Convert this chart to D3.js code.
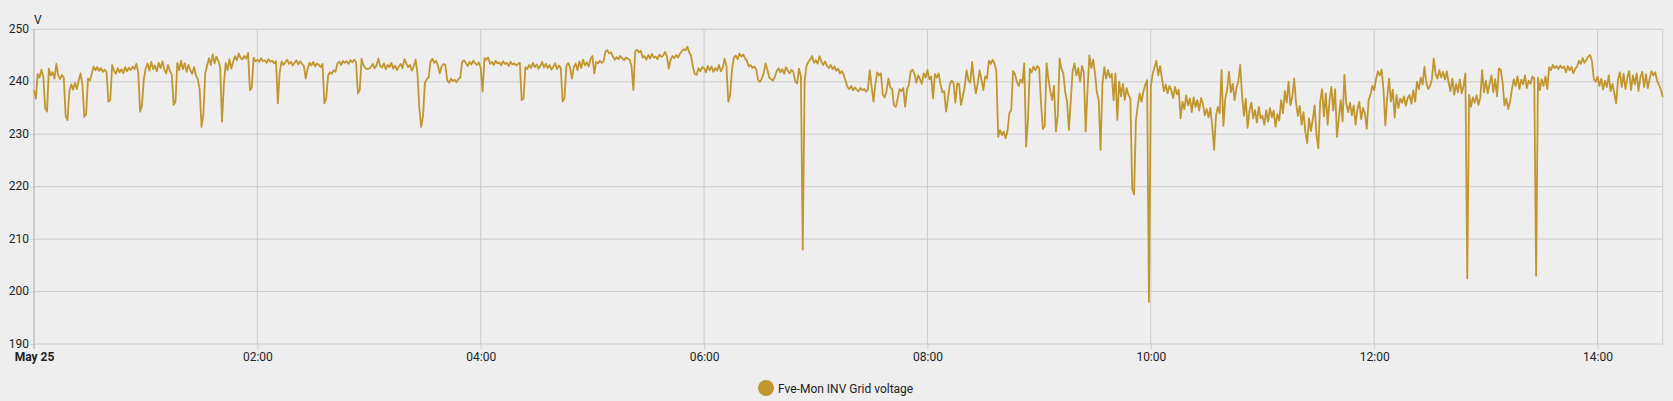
<!DOCTYPE html>
<html>
<head>
<meta charset="utf-8">
<script src="https://cdn.jsdelivr.net/npm/d3@7"></script>
<style>
  body { margin: 0; background: #eeeeee; }
  svg { display: block; font-family: Roboto, sans-serif; }
</style>
</head>
<body>
<div id="chart"></div>
<script>
// one reading per minute, starting May 25 00:00
const hour00 = [238.4,236.8,241.5,240.8,242.3,241.0,235.0,234.3,242.5,241.2,
  241.8,240.6,243.4,241.2,240.5,241.3,240.8,233.5,232.7,238.2,
  239.5,238.5,239.8,238.6,240.2,241.6,239.5,233.3,233.8,240.6,
  240.2,241.5,242.9,242.2,242.8,242.1,242.6,241.9,242.3,241.8,
  236.2,236.5,243.2,242.1,241.5,242.6,241.8,242.4,241.6,242.8,
  242.0,242.7,242.2,242.9,242.4,243.4,241.8,234.3,235.5,240.5];
const hour01 = [242.5,243.5,242.1,243.8,242.4,243.1,242.0,243.6,242.6,243.9,
  242.3,241.6,243.2,242.1,241.4,235.6,236.2,243.6,242.2,244.0,
  242.4,243.5,241.9,243.2,242.2,241.5,242.8,241.2,240.5,238.5,
  231.4,233.8,241.6,243.1,244.5,243.2,245.2,243.5,244.8,244.0,
  242.8,232.4,239.5,243.6,242.2,244.3,242.5,243.8,244.9,244.1,
  245.4,244.5,244.3,244.9,244.4,245.5,238.4,238.9,244.6,243.9];
const hour02 = [244.2,243.8,244.5,243.9,244.1,243.6,244.3,243.8,244.0,243.5,
  243.9,235.9,241.8,243.9,243.2,243.7,244.2,243.4,243.8,243.1,
  243.6,244.1,243.3,243.9,243.4,243.0,240.6,242.5,243.6,243.1,
  243.8,242.9,243.5,243.2,242.8,243.4,235.9,236.8,241.2,241.8,
  241.5,242.2,241.9,243.5,243.8,243.2,244.0,243.6,243.9,243.4,
  244.1,243.7,244.2,243.8,237.8,238.4,244.4,243.2,242.6,242.4];
const hour03 = [242.5,242.8,243.4,242.6,243.1,244.4,243.0,242.7,243.5,242.4,
  243.2,242.8,243.6,242.5,243.1,242.2,242.9,243.4,242.6,244.3,
  243.5,242.8,243.2,242.1,242.9,244.2,241.6,235.0,231.4,233.5,
  239.7,240.5,240.8,243.8,244.4,243.6,244.0,243.1,241.6,242.9,
  243.4,243.2,240.3,239.8,240.6,240.1,240.4,239.9,240.5,240.8,
  243.8,244.1,243.6,243.0,243.8,243.3,244.0,243.5,243.2,243.7];
const hour04 = [242.6,238.1,244.5,244.2,244.6,243.4,243.8,243.2,244.0,243.5,
  243.7,243.1,243.9,243.4,243.6,243.0,243.8,243.3,243.5,243.1,
  243.4,243.6,236.5,236.8,242.8,242.4,243.2,242.6,243.6,242.8,
  243.3,242.5,243.0,243.8,242.7,243.4,242.6,243.2,242.3,242.9,
  243.5,242.4,243.1,242.6,236.2,236.9,243.0,243.6,242.7,240.6,
  242.8,243.5,242.2,243.9,242.6,244.2,243.1,243.7,242.9,244.3];
const hour05 = [244.9,241.6,243.8,243.5,244.0,243.6,243.9,245.8,246.0,245.4,
  245.6,244.8,244.2,244.7,244.3,244.9,244.5,244.1,244.6,244.4,
  244.2,243.0,238.4,245.8,246.1,245.6,245.9,244.6,244.9,244.2,
  245.1,244.4,245.3,244.6,244.8,244.3,245.2,244.7,245.0,245.7,
  244.9,242.5,244.2,244.9,244.5,245.1,244.6,245.3,245.8,246.2,
  246.0,246.7,245.6,245.0,242.8,241.5,241.3,242.6,242.0,242.8];
const hour06 = [242.6,241.8,243.0,242.2,242.9,241.9,242.6,242.1,243.2,242.0,
  242.7,244.4,243.0,236.2,237.5,242.4,244.6,245.0,244.3,245.4,
  244.8,245.2,244.5,244.0,242.9,243.2,242.6,242.9,242.4,240.3,
  240.0,240.6,241.6,243.5,242.3,240.8,240.5,240.2,240.9,242.0,
  242.6,241.8,242.4,241.5,242.8,242.1,241.6,242.3,241.8,240.0,
  239.7,242.5,241.0,208.0,240.0,243.0,243.8,244.2,244.9,243.6];
const hour07 = [244.1,243.4,244.9,243.8,243.2,243.9,243.0,242.6,243.2,242.4,
  242.9,242.1,242.5,241.6,242.0,241.3,240.2,239.0,238.6,239.2,
  238.4,238.9,238.5,238.2,238.8,238.4,238.6,238.1,238.5,242.2,
  239.0,236.2,239.5,241.8,241.2,241.6,237.5,237.0,238.2,240.6,
  239.0,238.6,235.5,235.2,236.8,238.6,238.2,238.8,235.2,238.5,
  239.4,242.0,242.3,241.5,239.8,241.2,240.5,239.6,241.6,240.8];
const hour08 = [242.2,240.5,241.0,236.8,241.5,240.8,241.6,239.5,238.0,238.2,
  234.3,236.8,239.5,240.2,239.8,236.0,239.7,239.5,235.6,237.2,
  239.0,242.2,240.3,239.8,243.8,240.2,237.8,239.6,242.2,240.5,
  238.4,241.0,240.6,244.0,243.4,244.2,243.5,242.0,229.5,230.8,
  229.8,230.5,229.2,230.6,234.0,234.6,242.0,241.5,240.0,239.2,
  240.4,239.8,243.5,227.6,232.7,242.5,241.8,242.9,242.2,243.0];
const hour09 = [242.6,236.0,231.0,231.5,243.5,240.5,238.2,236.5,239.2,230.5,
  233.5,244.4,242.5,241.6,238.0,236.2,230.8,236.5,242.0,243.5,
  241.2,242.6,240.0,243.0,241.8,230.5,238.5,245.0,242.6,244.2,
  241.6,238.0,236.5,227.0,239.5,242.8,240.6,242.2,240.8,241.5,
  236.5,241.6,232.7,240.0,237.2,239.6,236.5,238.8,237.5,236.8,
  219.5,218.5,232.7,235.5,237.8,236.2,238.1,239.4,240.3,198.0];
const hour10 = [239.0,241.5,242.8,244.0,241.2,243.0,240.6,238.2,239.5,237.8,
  239.2,238.4,236.9,239.0,237.6,238.5,233.0,236.2,234.8,237.4,
  235.5,236.8,234.2,237.0,235.2,236.5,234.5,236.9,235.8,233.6,
  234.8,233.2,235.0,231.5,227.0,233.5,235.2,234.0,242.2,231.6,
  236.8,238.5,241.9,238.0,239.6,236.5,238.8,240.0,243.2,237.5,
  233.5,236.8,231.2,234.5,236.0,233.0,234.6,232.2,235.2,233.0];
const hour11 = [233.5,231.8,234.6,232.4,235.0,233.2,234.5,231.4,233.8,232.6,
  236.5,234.0,238.2,236.0,240.0,235.5,237.2,240.6,236.0,233.5,
  235.4,231.8,234.2,230.5,228.3,233.0,230.6,232.8,235.5,229.8,
  227.3,236.2,238.6,233.4,237.8,231.8,236.4,239.0,234.5,238.6,
  229.5,233.0,236.5,232.4,241.3,235.8,234.2,236.0,233.6,235.5,
  231.8,234.8,236.2,232.9,235.0,234.0,231.0,236.5,237.6,239.2];
const hour12 = [238.4,240.5,242.0,241.2,242.3,238.5,231.7,237.0,240.6,236.2,
  238.5,233.2,237.5,235.0,236.8,236.0,237.2,235.4,236.9,237.5,
  235.8,238.4,236.2,240.0,238.6,240.8,239.5,242.9,239.8,238.6,
  239.2,240.5,244.4,241.5,240.6,242.2,240.8,241.9,240.4,242.0,
  239.8,238.2,240.6,237.5,239.6,238.0,240.4,237.8,239.2,241.6,
  202.5,237.5,235.2,237.0,236.0,237.4,235.6,236.9,242.2,238.0];
const hour13 = [240.2,237.8,239.6,241.2,238.0,240.5,237.2,242.5,242.3,239.8,
  235.5,236.8,234.8,236.2,238.6,240.5,239.2,241.0,238.6,240.4,
  239.5,241.2,238.8,240.2,239.6,241.0,240.6,203.0,240.8,238.4,
  240.5,239.2,241.0,238.6,242.8,242.2,243.2,242.6,243.0,242.4,
  243.1,242.6,242.9,241.8,243.0,242.2,242.8,241.6,242.5,242.9,
  244.0,243.4,244.5,243.6,244.2,244.8,245.1,243.9,240.5,240.0];
const hour14 = [241.0,239.2,240.6,238.5,240.2,239.0,241.2,238.2,239.6,237.8,
  235.9,240.5,241.8,239.0,241.5,238.6,240.8,242.0,238.4,241.2,
  239.5,241.6,238.2,240.8,241.9,239.0,241.4,238.8,240.6,242.0,
  241.2,241.8,240.2,239.4,238.5,237.1];

const yTicks = [190, 200, 210, 220, 230, 240, 250];
const seriesName = "Fve-Mon INV Grid voltage";
const unitLabel = "V";

const start = new Date(2024, 4, 25, 0, 0);
const volts = [].concat(hour00, hour01, hour02, hour03, hour04, hour05, hour06,
  hour07, hour08, hour09, hour10, hour11, hour12, hour13, hour14);
const data = volts.map((v, i) => ({ date: d3.timeMinute.offset(start, i), v: v }));

const width = 1673, height = 401;
const margin = {top: 29.3, right: 10.3, bottom: 57, left: 34};
const lineColor = "#c1962f";

const svg = d3.select("#chart").append("svg")
    .attr("width", width)
    .attr("height", height);

const x = d3.scaleTime()
    .domain([start, d3.timeMinute.offset(start, 875.5)])
    .range([margin.left, width - margin.right]);
const y = d3.scaleLinear()
    .domain([190, 250])
    .range([height - margin.bottom, margin.top]);

// horizontal grid + y labels
const yAxis = svg.append("g")
    .attr("transform", "translate(" + margin.left + ",0)")
    .call(d3.axisLeft(y).tickValues(yTicks).tickSize(4).tickPadding(1));
yAxis.select(".domain").remove();
yAxis.selectAll(".tick line").attr("stroke", "#cccccc");
yAxis.selectAll(".tick text")
    .attr("font-size", 12)
    .attr("font-family", "Roboto, sans-serif")
    .attr("fill", "#222")
    .attr("dy", "0.25em");
svg.append("g").selectAll("line")
    .data(yTicks)
    .join("line")
    .attr("x1", margin.left)
    .attr("x2", width - margin.right)
    .attr("y1", d => y(d))
    .attr("y2", d => y(d))
    .attr("stroke", "#cccccc");

// vertical grid + x labels
const xTicks = d3.timeHour.every(2).range(start, d3.timeMinute.offset(start, 876));
const xAxis = svg.append("g")
    .attr("transform", "translate(0," + (height - margin.bottom) + ")")
    .call(d3.axisBottom(x).tickValues(xTicks).tickSize(5).tickPadding(3)
        .tickFormat((d, i) => i === 0 ? "May 25" : d3.timeFormat("%H:%M")(d)));
xAxis.select(".domain").remove();
xAxis.selectAll(".tick line").attr("stroke", "#cccccc");
xAxis.selectAll(".tick text")
    .attr("font-size", 12)
    .attr("font-family", "Roboto, sans-serif")
    .attr("fill", "#222")
    .attr("font-weight", (d, i) => i === 0 ? "bold" : null);
svg.append("g").selectAll("line")
    .data(xTicks)
    .join("line")
    .attr("x1", d => x(d))
    .attr("x2", d => x(d))
    .attr("y1", margin.top)
    .attr("y2", height - margin.bottom)
    .attr("stroke", "#cccccc");
svg.append("line")
    .attr("x1", width - margin.right)
    .attr("x2", width - margin.right)
    .attr("y1", margin.top)
    .attr("y2", height - margin.bottom)
    .attr("stroke", "#cccccc");
svg.append("line")
    .attr("x1", margin.left)
    .attr("x2", margin.left)
    .attr("y1", margin.top)
    .attr("y2", height - margin.bottom + 5)
    .attr("stroke", "#bbbbbb");

svg.append("text")
    .attr("x", margin.left)
    .attr("y", 24)
    .attr("font-size", 12)
    .attr("fill", "#222")
    .text(unitLabel);

const line = d3.line()
    .x(d => x(d.date))
    .y(d => y(d.v));
svg.append("path")
    .datum(data)
    .attr("fill", "none")
    .attr("stroke", lineColor)
    .attr("stroke-width", 1.8)
    .attr("stroke-linejoin", "round")
    .attr("d", line);

// legend
const legend = svg.append("g").attr("transform", "translate(766,388)");
legend.append("circle").attr("r", 8).attr("fill", lineColor);
legend.append("text")
    .attr("x", 12)
    .attr("y", 4.5)
    .attr("font-size", 12)
    .attr("fill", "#222")
    .text(seriesName);
</script>
</body>
</html>
